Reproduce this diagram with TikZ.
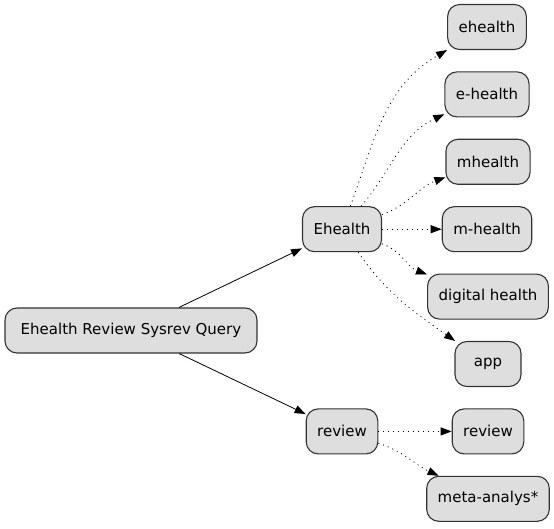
\documentclass[tikz,border=0pt]{standalone}
\usepackage{fontspec}
\setmainfont{DejaVu Sans}
\usetikzlibrary{arrows.meta}

\begin{document}
\begin{tikzpicture}[
    x=1pt, y=1pt,
    term/.style={draw=black!80, fill=black!13, rounded corners=12pt, line width=1.1pt, minimum height=45pt, minimum width=66pt, inner xsep=11pt, font=\fontsize{15}{17}\selectfont},
    query/.style={term, minimum width=252pt},
    arrow/.style={-{Triangle[length=11pt,width=8pt]}, line width=0.8pt},
    dotarrow/.style={arrow, dash pattern=on 1pt off 4pt}
  ]
  \useasboundingbox (0,0) rectangle (554,528);

  % Root query
  \node[query] (query) at (131,197.5) {Ehealth Review Sysrev Query};

  % Concepts
  \node[term] (ehealth) at (342,298.8) {Ehealth};
  \node[term] (review) at (342,96.6) {review};

  % Ehealth terms
  \node[term] (t_ehealth) at (487,501) {ehealth};
  \node[term] (t_e_health) at (487,433.6) {e-health};
  \node[term] (t_mhealth) at (488,366.2) {mhealth};
  \node[term] (t_m_health) at (487,298.8) {m-health};
  \node[term] (t_digital) at (488,231.4) {digital health};
  \node[term] (t_app) at (488,164) {app};

  % Review terms
  \node[term] (t_review) at (488,96.6) {review};
  \node[term] (t_meta) at (488,29.2) {meta-analys*};

  % Connections
  \draw[arrow] (query) -- (ehealth);
  \draw[arrow] (query) -- (review);

  \draw[dotarrow] (ehealth) to[out=70, in=210] (t_ehealth);
  \draw[dotarrow] (ehealth) to[out=50, in=205] (t_e_health);
  \draw[dotarrow] (ehealth) to[out=20, in=200] (t_mhealth);
  \draw[dotarrow] (ehealth) -- (t_m_health);
  \draw[dotarrow] (ehealth) to[out=-20, in=160] (t_digital);
  \draw[dotarrow] (ehealth) to[out=-55, in=145] (t_app);

  \draw[dotarrow] (review) -- (t_review);
  \draw[dotarrow] (review) to[out=-18, in=155] (t_meta);

\end{tikzpicture}
\end{document}
